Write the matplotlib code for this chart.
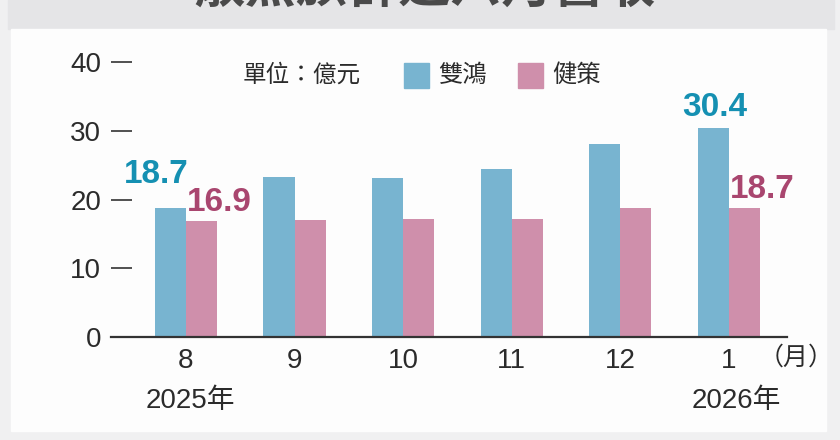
import numpy as np
import matplotlib.pyplot as plt
from matplotlib.patches import Rectangle

# data
months = ["8", "9", "10", "11", "12", "1"]
shuanghong = [18.7, 23.3, 23.1, 24.4, 28.1, 30.4]  # 雙鴻
jiance = [16.9, 17.0, 17.2, 17.2, 18.8, 18.7]  # 健策
yticks = [0, 10, 20, 30, 40]
title = "散熱族群近六月營收"
unit = "單位：億元"
names = ["雙鴻", "健策"]

blue = "#78b4d0"
pink = "#cf8fab"
blue_txt = "#1590b2"
pink_txt = "#a9466f"
txtc = "#2b2b2b"
cjk = ["Noto Sans CJK TC", "DejaVu Sans"]
num = ["Liberation Sans Narrow", "Liberation Sans", "Noto Sans CJK TC"]

W, H = 840, 440
fig = plt.figure(figsize=(8.4, 4.4), dpi=100, facecolor="#f0f0f1")

def px(x, y, w, h):
    # pixel box (top-left origin) -> figure coords
    return (x / W, 1 - (y + h) / H, w / W, h / H)

# backgrounds (behind the axes)
x0, y0, w0, h0 = px(8, 0, 826, 29)
fig.patches.append(Rectangle((x0, y0), w0, h0, transform=fig.transFigure, color="#e5e5e7", zorder=-5))
x0, y0, w0, h0 = px(11, 29, 815, 402)
fig.patches.append(Rectangle((x0, y0), w0, h0, transform=fig.transFigure, color="#fdfdfd", zorder=-5))

# title (top cut off like the reference)
fig.text(425 / W, 1 - 13 / H, title, ha="center", va="bottom", fontsize=37,
         fontweight="bold", color="#4a4a4a", family=cjk)

ax = fig.add_axes(px(111, 62, 676, 275))
ax.set_zorder(2)
ax.set_facecolor("none")
x = np.arange(len(months))
bw = 0.286
ax.bar(x - bw / 2, shuanghong, bw, color=blue, zorder=2)
ax.bar(x + bw / 2, jiance, bw, color=pink, zorder=2)
ax.set_xlim(-0.69, 5.535)
ax.set_ylim(0, 40)

for s in ["left", "right", "top"]:
    ax.spines[s].set_visible(False)
ax.spines["bottom"].set_color("#333333")
ax.spines["bottom"].set_linewidth(1.6)
ax.spines["bottom"].set_zorder(3)

ax.set_yticks(yticks)
ax.set_yticklabels([str(t) for t in yticks], family=num, fontsize=20, color=txtc)
ax.tick_params(axis="y", direction="in", length=15, width=1.2, color="#333333", pad=7)
ax.set_xticks(x)
ax.set_xticklabels(months, family=num, fontsize=20, color=txtc)
ax.tick_params(axis="x", length=0, pad=8)

# value labels (first and last month)
lab = dict(ha="center", va="bottom", fontsize=24, fontweight="bold", family="Liberation Sans")
ax.text(x[0] - 0.277, shuanghong[0] + 2.7, f"{shuanghong[0]}", color=blue_txt, **lab)
ax.text(x[0] + 0.304, jiance[0] + 0.4, f"{jiance[0]}", color=pink_txt, **lab)
ax.text(x[-1] - 0.135, shuanghong[-1] + 0.8, f"{shuanghong[-1]}", color=blue_txt, **lab)
ax.text(x[-1] + 0.304, jiance[-1] + 0.5, f"{jiance[-1]}", color=pink_txt, **lab)

# legend
fig.text(243 / W, 1 - 75 / H, unit, ha="left", va="center", fontsize=17, color=txtc, family=cjk)
for i, (nm, c) in enumerate(zip(names, [blue, pink])):
    bx = 404 + i * 114
    xx, yy, ww, hh = px(bx, 63, 25, 25)
    fig.patches.append(Rectangle((xx, yy), ww, hh, transform=fig.transFigure, color=c, zorder=2))
    fig.text((bx + 34) / W, 1 - 75 / H, nm, ha="left", va="center", fontsize=17.5, color=txtc, family=cjk)

# axis notes
fig.text(796 / W, 1 - 358 / H, "（月）", ha="center", va="center", fontsize=18, color=txtc, family=cjk)
fig.text(190 / W, 1 - 401 / H, "2025年", ha="center", va="center", fontsize=20, color=txtc, family=num + cjk)
fig.text(736 / W, 1 - 401 / H, "2026年", ha="center", va="center", fontsize=20, color=txtc, family=num + cjk)

fig.savefig("out.png", dpi=100, facecolor=fig.get_facecolor())
